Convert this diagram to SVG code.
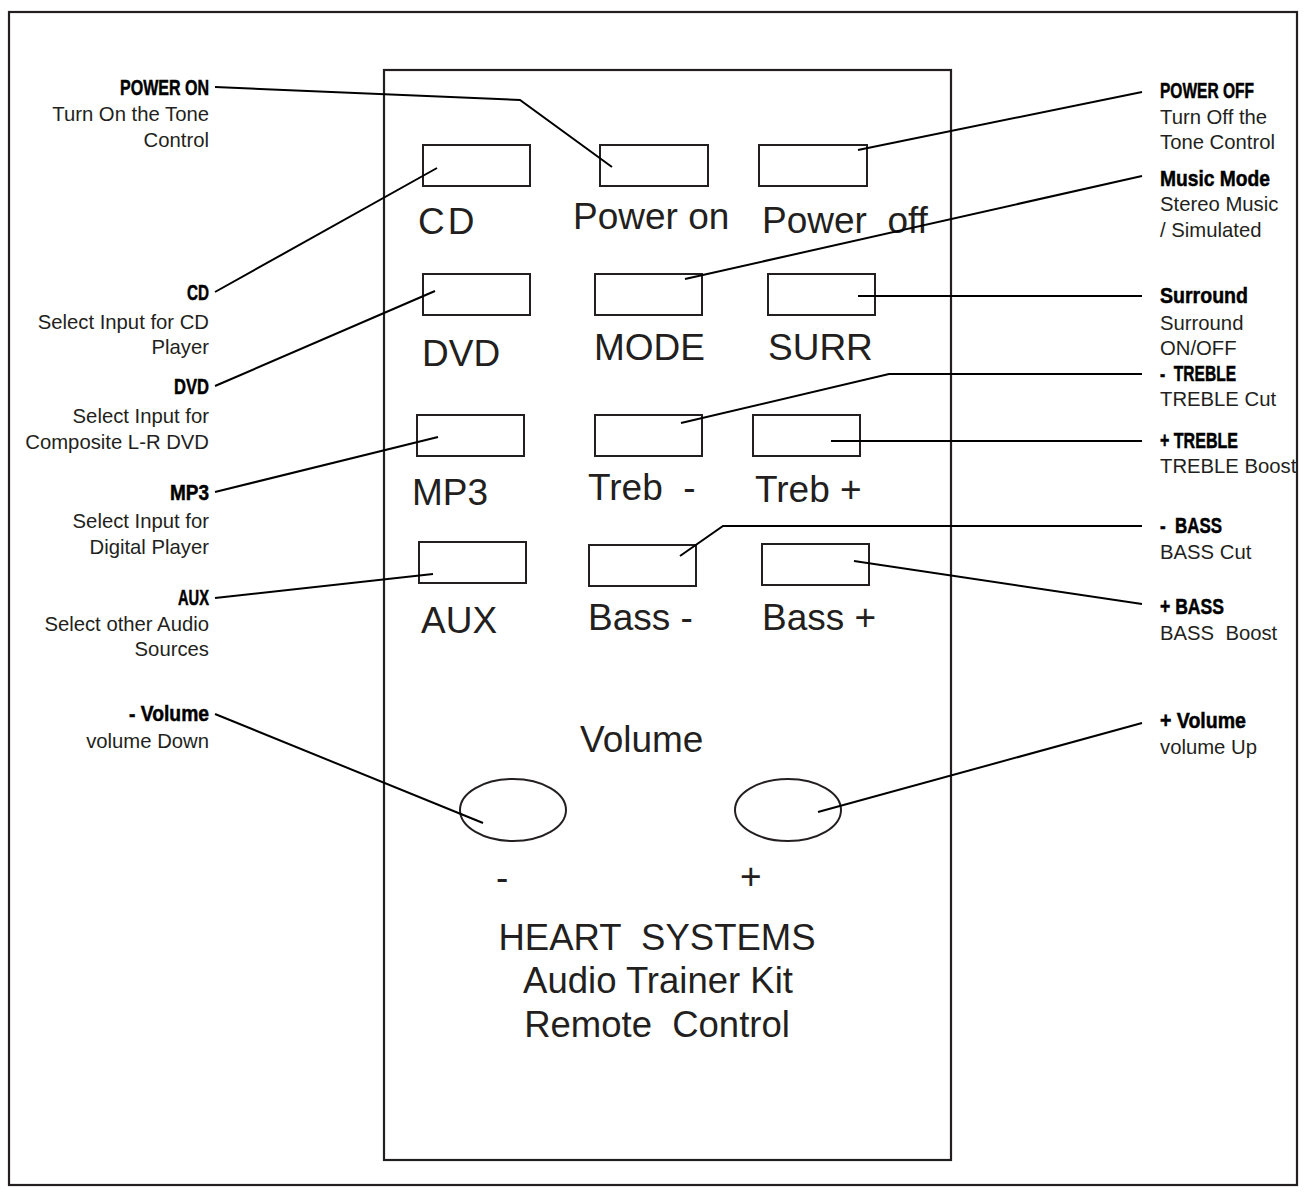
<svg xmlns="http://www.w3.org/2000/svg" width="1305" height="1193" viewBox="0 0 1305 1193">
<style>
.frame{fill:none;stroke:#231f20;stroke-width:2.2}
.btn{fill:none;stroke:#231f20;stroke-width:2}
.ln{fill:none;stroke:#000;stroke-width:2}
.lab{font-family:"Liberation Sans",Arial,sans-serif;font-size:37px;fill:#231f20;white-space:pre}
.big{font-family:"Liberation Sans",Arial,sans-serif;font-size:36.5px;fill:#231f20;text-anchor:middle;white-space:pre}
.hd{font-family:"Liberation Sans",Arial,sans-serif;font-weight:bold;font-size:22.5px;fill:#000;white-space:pre;stroke:#000;stroke-width:0.5}
.ds{font-family:"Liberation Sans",Arial,sans-serif;font-size:20.3px;fill:#231f20;white-space:pre}
.l{text-anchor:end}
</style>
<rect width="1305" height="1193" fill="#fff"/>
<rect class="frame" x="9" y="12" width="1288" height="1173"/>
<g id="remote">
<rect class="frame" x="384" y="70" width="567" height="1090"/>
<text class="lab" x="580" y="752">Volume</text>
<text class="lab" x="496" y="890">-</text>
<text class="lab" x="740" y="889">+</text>
<text class="big" x="657" y="950">HEART  SYSTEMS</text>
<text class="big" x="658" y="993">Audio Trainer Kit</text>
<text class="big" x="657" y="1037">Remote  Control</text>
</g>
<g id="btn-cd"><rect class="btn" x="423" y="145" width="107" height="41"/><text class="lab" x="418" y="234" letter-spacing="3">CD</text></g>
<g id="btn-poweron"><rect class="btn" x="600" y="145" width="108" height="41"/><text class="lab" x="573" y="229">Power on</text></g>
<g id="btn-poweroff"><rect class="btn" x="759" y="145" width="108" height="41"/><text class="lab" x="762" y="233">Power  off</text></g>
<g id="btn-dvd"><rect class="btn" x="423" y="274" width="107" height="41"/><text class="lab" x="422" y="366">DVD</text></g>
<g id="btn-mode"><rect class="btn" x="595" y="274" width="107" height="41"/><text class="lab" x="594" y="360">MODE</text></g>
<g id="btn-surr"><rect class="btn" x="768" y="274" width="107" height="41"/><text class="lab" x="768" y="360">SURR</text></g>
<g id="btn-mp3"><rect class="btn" x="417" y="415" width="107" height="41"/><text class="lab" x="412" y="505">MP3</text></g>
<g id="btn-trebminus"><rect class="btn" x="595" y="415" width="107" height="41"/><text class="lab" x="588" y="500">Treb  -</text></g>
<g id="btn-trebplus"><rect class="btn" x="753" y="415" width="107" height="41"/><text class="lab" x="755" y="502">Treb +</text></g>
<g id="btn-aux"><rect class="btn" x="419" y="542" width="107" height="41"/><text class="lab" x="421" y="633">AUX</text></g>
<g id="btn-bassminus"><rect class="btn" x="589" y="545" width="107" height="41"/><text class="lab" x="588" y="630">Bass -</text></g>
<g id="btn-bassplus"><rect class="btn" x="762" y="544" width="107" height="41"/><text class="lab" x="762" y="630">Bass +</text></g>
<g id="vol-minus"><ellipse class="btn" cx="513" cy="810" rx="53" ry="31"/></g>
<g id="vol-plus"><ellipse class="btn" cx="788" cy="810" rx="53" ry="31"/></g>
<g id="label-poweron"><text class="hd l" x="209" y="95" textLength="89" lengthAdjust="spacingAndGlyphs">POWER ON</text><text class="ds l" x="209" y="121">Turn On the Tone</text><text class="ds l" x="209" y="147">Control</text></g>
<g id="label-cd"><text class="hd l" x="209" y="300" textLength="22" lengthAdjust="spacingAndGlyphs">CD</text><text class="ds l" x="209" y="329">Select Input for CD</text><text class="ds l" x="209" y="354">Player</text></g>
<g id="label-dvd"><text class="hd l" x="209" y="394" textLength="35" lengthAdjust="spacingAndGlyphs">DVD</text><text class="ds l" x="209" y="423">Select Input for</text><text class="ds l" x="209" y="449">Composite L-R DVD</text></g>
<g id="label-mp3"><text class="hd l" x="209" y="500" textLength="39" lengthAdjust="spacingAndGlyphs">MP3</text><text class="ds l" x="209" y="528">Select Input for</text><text class="ds l" x="209" y="554">Digital Player</text></g>
<g id="label-aux"><text class="hd l" x="209" y="605" textLength="31" lengthAdjust="spacingAndGlyphs">AUX</text><text class="ds l" x="209" y="631">Select other Audio</text><text class="ds l" x="209" y="656">Sources</text></g>
<g id="label-volminus"><text class="hd l" x="209" y="721" textLength="80" lengthAdjust="spacingAndGlyphs">- Volume</text><text class="ds l" x="209" y="748">volume Down</text></g>
<g id="label-poweroff"><text class="hd" x="1160" y="98" textLength="94" lengthAdjust="spacingAndGlyphs">POWER OFF</text><text class="ds" x="1160" y="124">Turn Off the</text><text class="ds" x="1160" y="149">Tone Control</text></g>
<g id="label-music"><text class="hd" x="1160" y="186" textLength="110" lengthAdjust="spacingAndGlyphs">Music Mode</text><text class="ds" x="1160" y="211">Stereo Music</text><text class="ds" x="1160" y="237">/ Simulated</text></g>
<g id="label-surround"><text class="hd" x="1160" y="303" textLength="88" lengthAdjust="spacingAndGlyphs">Surround</text><text class="ds" x="1160" y="330">Surround</text><text class="ds" x="1160" y="355">ON/OFF</text></g>
<g id="label-trebminus"><text class="hd" x="1160" y="381" textLength="76" lengthAdjust="spacingAndGlyphs">-  TREBLE</text><text class="ds" x="1160" y="406">TREBLE Cut</text></g>
<g id="label-trebplus"><text class="hd" x="1160" y="448" textLength="78" lengthAdjust="spacingAndGlyphs">+ TREBLE</text><text class="ds" x="1160" y="473">TREBLE Boost</text></g>
<g id="label-bassminus"><text class="hd" x="1160" y="533" textLength="62" lengthAdjust="spacingAndGlyphs">-  BASS</text><text class="ds" x="1160" y="559">BASS Cut</text></g>
<g id="label-bassplus"><text class="hd" x="1160" y="614" textLength="64" lengthAdjust="spacingAndGlyphs">+ BASS</text><text class="ds" x="1160" y="640">BASS  Boost</text></g>
<g id="label-volplus"><text class="hd" x="1160" y="728" textLength="86" lengthAdjust="spacingAndGlyphs">+ Volume</text><text class="ds" x="1160" y="754">volume Up</text></g>
<g id="connectors">
<polyline class="ln" points="215,87 520,100 612,167"/>
<line class="ln" x1="1142" y1="92" x2="858" y2="150"/>
<line class="ln" x1="215" y1="292" x2="437" y2="168"/>
<line class="ln" x1="1142" y1="176" x2="685" y2="279"/>
<line class="ln" x1="215" y1="386" x2="435" y2="291"/>
<line class="ln" x1="1142" y1="296" x2="858" y2="296"/>
<line class="ln" x1="215" y1="492" x2="438" y2="437"/>
<polyline class="ln" points="1142,374 889,374 681,423"/>
<line class="ln" x1="1142" y1="441" x2="831" y2="441"/>
<line class="ln" x1="215" y1="598" x2="433" y2="574"/>
<polyline class="ln" points="1142,526 723,526 680,556"/>
<line class="ln" x1="1142" y1="604" x2="854" y2="561"/>
<line class="ln" x1="215" y1="714" x2="483" y2="823"/>
<line class="ln" x1="1142" y1="723" x2="818" y2="812"/>
</g>
</svg>
